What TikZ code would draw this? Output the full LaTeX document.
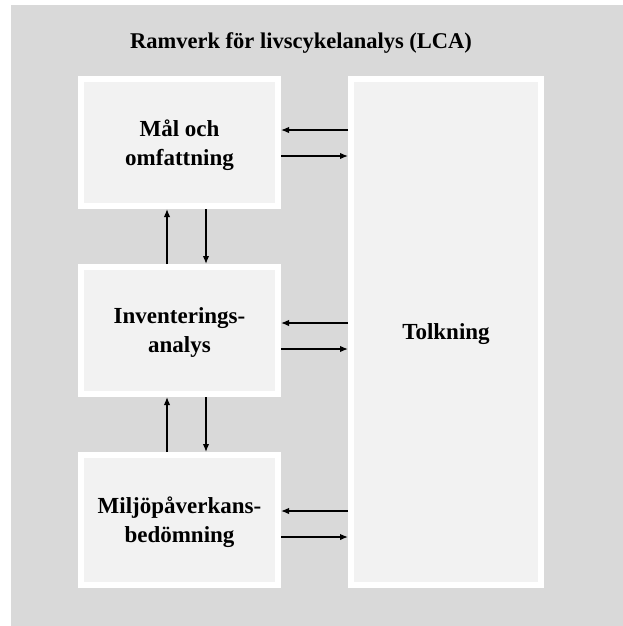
\documentclass[tikz,border=0pt]{standalone}
\usepackage{fontspec}
\setmainfont{Liberation Serif}
\usetikzlibrary{arrows.meta}
\definecolor{bgGray}{HTML}{D9D9D9}
\definecolor{boxFill}{HTML}{F2F2F2}
\tikzset{
  stage/.style={draw=white, line width=6pt, fill=boxFill, align=center,
    font=\fontsize{23}{29}\selectfont\bfseries, inner sep=0pt, text depth=0pt},
  flow/.style={line width=1.4pt, -{Latex[length=8pt,width=6.5pt]}},
}
\begin{document}
\begin{tikzpicture}[x=1pt,y=-1pt]
  \useasboundingbox (0,0) rectangle (623,626);
  \fill[bgGray] (11,5) rectangle (623,626);

  \node[font=\fontsize{22.5}{26}\selectfont\bfseries] (title) at (301,43)
    {Ramverk för livscykelanalys (LCA)};

  \node[stage, minimum width=197pt, minimum height=127pt] (goal) at (179.5,142.5)
    {Mål och\\omfattning};
  \node[stage, minimum width=197pt, minimum height=127pt] (inv) at (179.5,330.5)
    {Inventerings-\\analys};
  \node[stage, minimum width=197pt, minimum height=130pt] (imp) at (179.5,520)
    {Miljöpåverkans-\\bedömning};
  \node[stage, minimum width=190pt, minimum height=506pt] (interp) at (446,332)
    {Tolkning};

  % exchanges with the interpretation phase
  \draw[flow] (interp.west |- 0,130) -- (goal.east |- 0,130);
  \draw[flow] (goal.east |- 0,156) -- (interp.west |- 0,156);
  \draw[flow] (interp.west |- 0,323) -- (inv.east |- 0,323);
  \draw[flow] (inv.east |- 0,349) -- (interp.west |- 0,349);
  \draw[flow] (interp.west |- 0,511) -- (imp.east |- 0,511);
  \draw[flow] (imp.east |- 0,537) -- (interp.west |- 0,537);

  % exchanges between consecutive phases
  \draw[flow] (inv.north -| 167,0) -- (goal.south -| 167,0);
  \draw[flow] (goal.south -| 206,0) -- (inv.north -| 206,0);
  \draw[flow] (imp.north -| 167,0) -- (inv.south -| 167,0);
  \draw[flow] (inv.south -| 206,0) -- (imp.north -| 206,0);
\end{tikzpicture}
\end{document}
